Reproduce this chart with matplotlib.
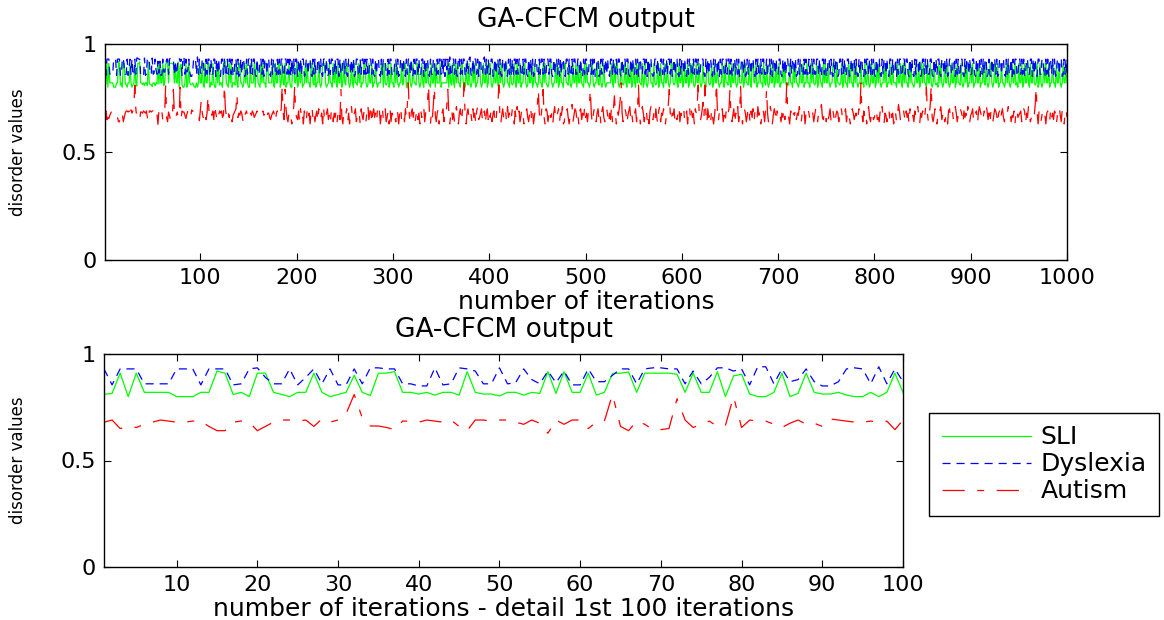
import numpy as np
import matplotlib
matplotlib.use("Agg")
from matplotlib import pyplot as plt

# series names for the legend
series_names = ["SLI", "Dyslexia", "Autism"]

# first 100 iterations
sli_first100 = [
   0.81, 0.815, 0.91, 0.80, 0.91, 0.82, 0.82, 0.82, 0.82, 0.80,
   0.80, 0.80, 0.82, 0.82, 0.92, 0.91, 0.81, 0.82, 0.80, 0.91,
   0.91, 0.82, 0.81, 0.80, 0.82, 0.82, 0.91, 0.82, 0.80, 0.81,
   0.82, 0.90, 0.82, 0.805, 0.91, 0.91, 0.917, 0.82, 0.82, 0.812,
   0.82, 0.807, 0.82, 0.82, 0.807, 0.917, 0.82, 0.812, 0.812, 0.803,
   0.82, 0.82, 0.807, 0.82, 0.815, 0.917, 0.815, 0.917, 0.82, 0.82,
   0.91, 0.807, 0.82, 0.908, 0.91, 0.915, 0.82, 0.91, 0.91, 0.91,
   0.91, 0.905, 0.82, 0.91, 0.82, 0.82, 0.917, 0.80, 0.897, 0.905,
   0.812, 0.80, 0.80, 0.82, 0.91, 0.80, 0.815, 0.91, 0.82, 0.812,
   0.812, 0.82, 0.807, 0.80, 0.80, 0.82, 0.80, 0.82, 0.91, 0.82,
]

dys_first100 = [
   0.93, 0.855, 0.93, 0.93, 0.93, 0.86, 0.86, 0.86, 0.86, 0.93,
   0.93, 0.93, 0.855, 0.93, 0.93, 0.93, 0.855, 0.86, 0.93, 0.935,
   0.89, 0.86, 0.86, 0.93, 0.855, 0.89, 0.93, 0.86, 0.93, 0.855,
   0.855, 0.93, 0.86, 0.935, 0.935, 0.93, 0.93, 0.86, 0.86, 0.85,
   0.85, 0.935, 0.855, 0.86, 0.935, 0.93, 0.92, 0.86, 0.86, 0.935,
   0.86, 0.865, 0.93, 0.88, 0.86, 0.92, 0.865, 0.92, 0.855, 0.855,
   0.93, 0.87, 0.87, 0.90, 0.93, 0.93, 0.86, 0.93, 0.935, 0.935,
   0.93, 0.93, 0.86, 0.92, 0.86, 0.89, 0.935, 0.935, 0.92, 0.93,
   0.855, 0.94, 0.94, 0.86, 0.93, 0.87, 0.88, 0.93, 0.87, 0.85,
   0.85, 0.87, 0.93, 0.935, 0.93, 0.86, 0.94, 0.86, 0.93, 0.87,
]

aut_first100 = [
   0.68, 0.69, 0.65, 0.66, 0.655, 0.67, 0.68, 0.69, 0.685, 0.68,
   0.68, 0.685, 0.685, 0.66, 0.64, 0.64, 0.68, 0.685, 0.68, 0.64,
   0.66, 0.68, 0.69, 0.69, 0.685, 0.69, 0.66, 0.695, 0.68, 0.69,
   0.72, 0.81, 0.70, 0.662, 0.662, 0.655, 0.645, 0.685, 0.685, 0.68,
   0.69, 0.685, 0.68, 0.69, 0.66, 0.64, 0.69, 0.69, 0.685, 0.69,
   0.69, 0.68, 0.67, 0.69, 0.675, 0.628, 0.69, 0.67, 0.69, 0.69,
   0.65, 0.68, 0.685, 0.81, 0.66, 0.64, 0.685, 0.67, 0.645, 0.645,
   0.65, 0.79, 0.69, 0.655, 0.67, 0.685, 0.66, 0.665, 0.80, 0.655,
   0.69, 0.685, 0.685, 0.67, 0.655, 0.675, 0.69, 0.67, 0.675, 0.66,
   0.695, 0.69, 0.685, 0.68, 0.68, 0.685, 0.68, 0.685, 0.645, 0.69,
]

# iterations 101-1000, estimated from the overview panel (hundredths)
sli_rest = """
82 91 81 80 91 82 82 91 91 80  82 81 91 82 80 80 91 82 91 81  82 82 80 91 91 92 82 81 80 91  82 91 80 82 82 81 91 82 80 91  91 82 82 80 81 91 82 91 82 80
80 91 82 82 82 91 80 91 91 82  81 80 91 82 91 82 82 80 91 91  82 82 82 82 91 81 80 91 82 82  91 91 80 82 91 82 81 91 80 82  82 91 82 80 80 91 91 82 82 91
80 82 91 82 91 80 81 82 91 82  91 82 82 80 91 91 82 81 91 80  82 82 91 82 80 82 91 91 91 82  80 81 82 91 82 82 80 91 82 91  82 80 91 82 82 91 80 82 91 82
81 91 91 82 80 82 91 82 80 91  82 82 81 91 82 91 80 82 82 91  91 82 80 81 91 82 82 91 80 82  82 91 82 80 82 82 82 91 91 80  91 82 81 82 91 80 82 91 82 82
80 91 82 91 82 80 82 82 91 81  82 91 91 80 82 82 91 82 80 82  91 82 82 81 91 91 82 80 82 91  82 80 91 82 82 91 82 81 80 91  82 82 91 80 91 82 82 82 91 80
82 82 82 82 82 82 91 80 91 82  81 91 82 80 91 82 91 82 82 80  91 91 82 82 80 91 82 81 91 82  80 82 91 82 91 80 82 82 91 91  82 80 82 91 82 82 91 80 82 91
91 82 80 82 91 82 82 91 81 80  91 82 91 82 80 82 91 91 82 82  80 91 82 81 82 91 82 80 91 82  82 91 80 82 82 91 91 82 80 81  91 82 82 91 80 82 91 82 82 80
82 91 82 82 80 91 82 91 82 81  80 82 91 91 82 80 82 82 91 82  91 80 82 91 82 82 80 91 91 82  82 81 91 82 80 82 91 82 82 91  80 91 82 82 91 82 81 80 91 82
91 82 82 80 82 91 91 82 80 82  82 91 82 81 91 82 80 82 91 82  80 82 82 82 82 82 91 82 80 91  82 91 91 82 80 82 91 82 81 82  91 82 80 91 82 82 91 80 82 91
82 80 91 82 91 82 82 81 91 80  82 91 82 80 82 91 91 82 82 80  91 82 81 82 91 80 82 91 82 82  80 91 82 82 91 82 80 82 91 91  82 81 82 91 82 80 91 82 82 91
80 82 91 82 82 91 80 82 91 82  91 82 80 81 91 82 82 91 82 80  82 91 82 82 80 91 91 82 81 82  91 80 82 91 82 82 91 82 80 82  82 91 82 80 91 82 82 81 91 82
80 91 82 82 91 82 80 82 91 82  82 82 91 80 82 91 82 82 81 91  82 80 91 91 82 82 91 80 82 82  91 82 82 80 91 82 81 91 82 80  82 91 82 82 91 80 82 91 82 82
91 80 82 82 91 82 91 82 80 82  81 91 82 82 80 91 82 91 82 82  80 82 91 82 82 91 80 82 82 91  82 82 80 91 82 91 82 81 82 91  80 82 91 82 82 80 91 82 91 82
82 91 82 80 82 82 91 91 82 80  91 82 82 81 82 91 80 82 91 82  82 80 91 82 91 82 82 80 91 82  91 82 80 82 82 91 82 82 80 91  82 81 91 82 80 82 91 82 82 91
80 82 91 82 91 82 80 82 82 91  82 91 80 82 82 91 82 81 91 82  82 82 80 91 82 82 91 82 80 91  82 91 82 82 80 91 82 91 82 81  80 82 91 82 82 91 80 82 91 82
91 82 82 80 91 82 82 91 82 80  82 91 82 81 82 80 91 82 91 82  80 82 91 82 82 91 82 80 82 91  82 82 91 80 82 91 82 82 81 91  82 80 82 91 82 91 80 82 82 91
82 91 80 82 82 91 82 82 91 80  82 82 91 82 81 91 82 80 82 91  91 82 80 82 91 82 82 91 80 82  82 91 82 82 80 82 91 82 91 82  80 82 91 82 82 91 81 82 80 91
82 82 91 80 82 91 82 82 91 82  80 91 82 82 91 82 81 82 91 80  82 91 82 80 82 91 82 91 82 82  91 80 82 82 91 82 82 80 91 82  82 91 82 80 82 91 82 82 91 82
"""

dys_rest = """
86 93 93 86 85 93 86 93 93 85  93 86 86 93 93 85 93 86 93 86  85 93 93 86 93 86 85 93 86 93  93 86 93 85 86 93 93 86 93 85  86 93 86 93 93 85 86 93 86 93
93 85 93 86 93 93 86 85 93 86  86 93 93 86 93 85 93 93 86 93  93 86 85 93 86 93 93 86 85 93  86 93 86 93 93 86 85 93 93 86  93 86 93 85 93 86 93 86 93 93
85 93 86 93 86 93 93 85 86 93  93 86 93 93 86 85 93 86 93 86  86 93 93 86 93 86 85 93 93 86  93 85 86 93 86 93 93 86 85 93  86 93 93 85 93 86 86 93 93 86
93 86 85 93 93 86 93 86 93 85  86 93 93 86 85 93 86 93 93 86  93 86 93 85 86 93 93 86 93 86  85 93 86 93 93 86 85 93 86 93  93 93 86 85 93 86 93 93 86 85
86 93 93 86 93 85 86 93 93 86  93 86 85 93 86 93 93 86 93 85  86 93 86 93 93 85 93 86 86 93  93 85 93 86 93 93 86 85 93 86  86 93 93 86 85 93 86 93 93 86
94 86 93 85 93 88 93 86 94 86  85 93 93 86 93 86 85 94 93 86  93 86 93 93 85 86 93 86 93 94  86 85 93 86 93 93 86 93 85 93  93 86 86 93 94 86 93 85 93 86
86 93 93 85 86 93 86 93 93 86  93 86 85 93 93 86 93 86 85 93  86 93 86 93 85 93 93 86 93 86  93 93 86 85 93 86 93 93 86 85  93 86 93 86 93 85 86 93 93 86
85 93 86 93 93 86 93 85 86 93  93 86 93 93 86 85 93 86 93 93  86 93 85 93 86 93 93 86 85 93  93 86 93 86 85 93 86 93 93 86  86 93 93 86 93 86 85 93 86 93
93 85 86 93 93 86 93 86 93 85  86 93 93 85 86 93 86 93 93 86  93 86 93 86 85 93 93 86 93 86  85 93 86 93 93 86 85 93 86 93  93 86 93 93 86 85 93 86 93 86
86 93 86 93 85 93 93 86 86 93  93 86 93 85 93 86 93 93 86 85  86 93 93 86 93 86 85 93 93 86  93 85 86 93 86 93 93 86 93 85  86 93 86 93 93 86 85 93 86 93
93 86 93 86 85 93 86 93 93 86  85 93 86 93 93 86 93 85 86 93  93 93 86 85 93 86 93 86 93 93  86 85 93 86 93 93 86 93 85 93  86 93 93 86 85 93 86 93 93 86
93 86 85 93 93 86 93 86 93 85  86 93 93 86 93 85 86 93 86 93  93 86 93 93 86 85 93 86 93 86  85 93 86 93 93 86 86 93 85 93  93 86 93 85 93 93 86 93 86 86
93 93 86 85 93 86 93 86 93 93  86 85 93 86 93 93 86 93 85 86  93 86 93 93 86 85 93 86 93 86  86 93 85 93 93 86 93 86 86 93  93 86 93 86 85 93 93 86 93 85
86 93 93 86 93 86 85 93 86 93  93 85 86 93 93 86 93 86 93 85  86 93 93 85 86 93 86 93 93 86  93 86 85 93 86 93 93 86 85 93  86 93 93 86 93 85 93 86 93 86
85 93 86 93 93 86 85 93 86 93  93 86 93 86 85 93 93 86 93 86  86 93 85 93 86 93 93 85 86 93  93 86 93 93 86 85 93 86 93 86  85 93 86 93 93 86 93 85 86 93
93 86 93 85 93 86 86 93 93 86  85 93 86 93 86 93 93 86 85 93  93 86 93 86 93 85 86 93 93 86  86 93 93 85 93 86 93 86 85 93  93 86 85 93 86 93 93 86 93 86
86 93 93 86 85 93 86 93 93 85  93 86 93 86 93 93 85 86 93 86  85 93 86 93 93 86 93 85 86 93  93 86 93 93 86 85 93 86 93 86  86 93 85 93 86 93 93 86 85 93
93 86 93 86 93 85 86 93 93 86  86 93 93 85 93 86 93 86 85 93  93 86 86 93 93 86 85 93 86 93  85 93 93 86 93 86 93 85 86 93  93 86 93 93 85 86 93 86 93 86
"""

aut_rest = """
74 68 66 69 67 65 68 76 69 66  68 67 69 65 72 68 66 64 67 69  68 69 66 67 81 70 67 65 68 66  69 68 64 67 68 69 70 77 66 68  67 69 68 65 63 67 68 69 66 68
69 68 67 69 68 66 67 68 69 68  67 69 68 68 69 67 68 69 66 68  68 66 65 67 68 69 67 64 68 69  67 66 68 70 81 68 65 79 70 66  64 68 69 66 63 67 71 81 68 66
65 69 64 70 66 68 63 69 67 64  70 66 68 63 69 71 65 68 64 67  69 64 70 65 66 68 63 71 64 66  68 70 65 67 63 69 70 64 68 66  69 64 68 70 65 79 66 63 69 68
67 70 64 68 63 69 71 65 67 68  70 64 66 69 68 63 70 67 65 69  68 64 69 72 65 68 72 63 68 70  66 68 64 70 67 69 63 68 71 65  68 70 64 66 69 63 70 64 68 67
69 66 64 70 68 63 68 71 65 66  68 64 70 66 72 82 67 63 68 70  66 69 64 67 70 65 68 63 69 66  68 71 64 68 70 74 81 66 63 69  66 72 80 67 64 68 70 63 68 67
68 70 64 67 66 72 79 68 63 67  70 65 68 64 69 71 66 63 68 70  64 68 73 82 66 63 68 70 65 67  68 64 70 66 68 63 69 71 65 66  68 70 64 67 69 63 68 70 65 69
66 70 64 68 69 63 64 70 72 81  68 63 67 70 66 65 69 64 71 66  68 64 66 70 68 63 69 65 71 66  69 64 67 70 68 63 64 69 70 66  64 68 71 65 69 63 67 70 69 72
79 68 64 67 72 79 66 63 70 69  64 67 70 66 68 63 68 71 65 66  68 70 64 68 67 71 63 64 69 68  70 66 63 67 69 72 64 67 70 69  65 68 63 69 70 65 68 64 71 66
68 64 69 72 79 68 63 67 70 68  64 68 70 65 68 63 69 71 66 64  68 70 67 63 68 65 71 64 70 76  68 63 69 67 70 74 82 68 64 67  70 68 63 67 69 71 65 68 64 69
68 70 64 70 81 68 63 67 71 68  64 68 70 65 68 63 69 71 67 65  68 64 70 66 63 69 71 64 68 67  70 68 63 67 69 72 79 68 64 68  67 70 63 66 65 68 71 64 68 66
68 70 64 66 69 63 69 71 65 69  66 68 63 70 68 72 81 68 64 66  69 73 66 81 68 63 70 66 68 64  70 66 63 67 72 82 68 64 69 67  68 70 64 67 63 69 71 68 70 79
68 64 67 70 63 68 66 71 64 67  81 68 63 67 70 68 64 67 71 68  63 69 66 70 64 69 68 65 71 67  69 63 66 70 68 64 70 79 68 64  67 71 68 63 67 70 68 64 69 67
69 67 64 68 66 70 65 70 82 68  66 63 69 68 65 68 67 70 65 68  67 71 68 64 68 66 69 63 68 67  70 68 65 67 69 68 64 67 70 66  64 68 67 69 72 66 65 69 68 64
68 65 67 70 64 67 69 66 63 67  69 68 64 67 71 69 65 66 68 70  64 68 69 66 63 67 70 68 65 67  68 64 67 70 68 82 68 64 69 66  68 63 69 71 66 64 69 68 65 66
68 70 65 66 64 69 67 71 66 63  68 67 64 69 70 65 69 66 68 63  69 68 64 67 72 69 65 66 68 70  67 64 69 66 68 63 70 68 65 67  64 69 67 66 71 67 63 68 66 69
68 65 70 80 68 64 67 72 81 66  64 67 70 68 63 68 67 69 71 65  67 69 64 66 68 63 69 70 66 67  69 65 66 71 68 64 67 66 70 69  67 63 69 66 68 65 71 68 64 67
68 70 64 66 68 69 63 68 71 69  67 64 66 69 68 72 69 65 68 63  69 68 64 67 70 69 67 63 68 69  65 68 70 66 64 67 69 68 71 67  68 64 67 66 69 63 69 70 66 67
68 69 64 66 70 69 63 68 66 71  67 64 66 69 68 67 72 80 68 63  69 68 64 67 70 69 67 63 68 69  67 64 70 66 68 65 69 68 63 67  68 71 67 64 69 66 63 68 70 66
"""


# turn a block of hundredths into a list of floats
def read_block(block):
   return [int(v) / 100 for v in block.split()]


sli = sli_first100 + read_block(sli_rest)
dys = dys_first100 + read_block(dys_rest)
aut = aut_first100 + read_block(aut_rest)
assert len(sli) == 1000 and len(dys) == 1000 and len(aut) == 1000

iterations = np.arange(1, len(sli) + 1)

# line styles roughly like the matlab defaults
plt.rcParams['lines.scale_dashes'] = False
line_styles = [
   dict(color=(0, 1, 0), linestyle='-'),
   dict(color=(0, 0, 1), dashes=(5.8, 4.3)),
   dict(color=(1, 0, 0), dashes=(16, 9, 5, 9)),
]

W, H = 1164, 620
fig = plt.figure(figsize=(W / 100, H / 100), dpi=100)

# axes placed in pixel terms
ax1 = fig.add_axes([105 / W, 1 - 260 / H, (1067 - 105) / W, (260 - 44) / H])
ax2 = fig.add_axes([104 / W, 1 - 567 / H, (903 - 104) / W, (567 - 354) / H])

lines = []
for values, style in zip([sli, dys, aut], line_styles):
   ax1.plot(iterations, values, lw=0.9, **style)
for values, name, style in zip([sli, dys, aut], series_names, line_styles):
   ln, = ax2.plot(iterations[:100], values[:100], lw=0.9, label=name, **style)
   lines.append(ln)

ax1.set_xlim(1, 1000)
ax1.set_xticks(range(100, 1001, 100))
ax2.set_xlim(1, 100)
ax2.set_xticks(range(10, 101, 10))

for ax, left in [(ax1, 105), (ax2, 104)]:
   ax.set_ylim(0, 1)
   ax.set_yticks([0, 0.5, 1])
   ax.set_yticklabels(['0', '0.5', '1'])
   ax.tick_params(direction='in', top=True, right=True, length=5, width=0.8,
                  labelsize=16, pad=6)
   for s in ax.spines.values():
      s.set_linewidth(1)
   ax.set_title('GA-CFCM output', fontsize=19, pad=12)
   ax.set_ylabel('disorder values', fontsize=12)
   ax.yaxis.set_label_coords(-(left - 27) / (ax.get_position().width * W), 0.5)

ax1.set_xlabel('number of iterations', fontsize=18, labelpad=1)
ax2.set_xlabel('number of iterations - detail 1st 100 iterations', fontsize=18, labelpad=1)

fig.legend(lines, series_names, loc='upper left', bbox_to_anchor=(929 / W, 1 - 413 / H),
           borderaxespad=0, fancybox=False, edgecolor='black', framealpha=1,
           fontsize=18, handlelength=3.56, handletextpad=0.4, labelspacing=0.12,
           borderpad=0.5)

fig.savefig('out.png', dpi=100)
